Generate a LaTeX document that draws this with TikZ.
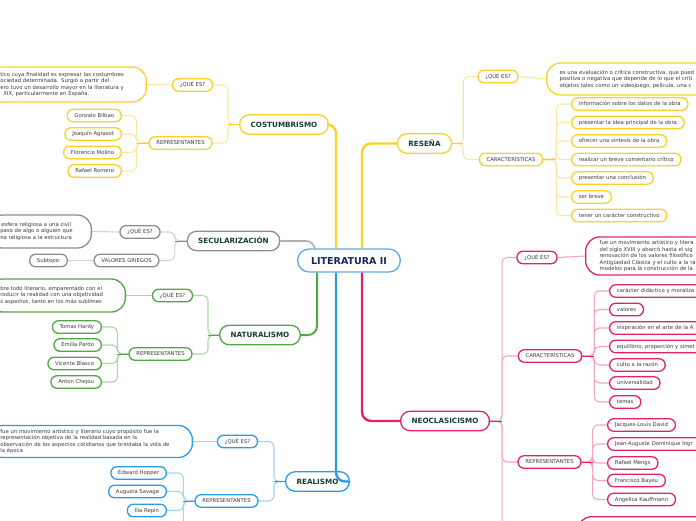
\documentclass[tikz,border=0pt]{standalone}
\usepackage{fontspec}
\setmainfont{DejaVu Sans}
\definecolor{amarillo}{HTML}{FAD12A}
\definecolor{amarilloC}{HTML}{FBE7A1}
\definecolor{verde}{HTML}{4FA844}
\definecolor{verdeC}{HTML}{ABD9A4}
\definecolor{azul}{HTML}{2A9BEA}
\definecolor{azulC}{HTML}{A2D2F5}
\definecolor{rosa}{HTML}{E2236A}
\definecolor{rosaC}{HTML}{F4A6C3}
\definecolor{gris}{HTML}{8E8E8E}
\definecolor{grisC}{HTML}{D3D3D3}
\definecolor{central}{HTML}{5EA9E2}
\definecolor{titulo}{HTML}{123F33}
\definecolor{tituloC}{HTML}{16285A}
\definecolor{texto}{HTML}{3A3A3A}
\usetikzlibrary{backgrounds}
\begin{document}
\begin{tikzpicture}[x=1pt,y=-1pt,line width=1.3pt,
  hoja/.style={draw,fill=white,rounded corners=6pt,inner xsep=7.3pt,inner ysep=0pt,minimum height=12.5pt,text height=4pt,text depth=1pt,text=texto,font=\fontsize{5.3}{6.4}\selectfont},
  larga/.style={hoja,text width=96pt,align=left},
  tema/.style={draw,fill=white,rounded corners=9.5pt,inner xsep=11pt,inner ysep=0pt,minimum height=19.5pt,text height=5.3pt,text depth=0pt,text=titulo,font=\fontsize{7.2}{8}\selectfont\bfseries},
  nota/.style={draw,fill=white,rounded corners=14pt,inner xsep=12pt,inner ysep=2pt,align=left,text=texto,font=\fontsize{5.3}{6.5}\selectfont},
  rama/.style={line width=1.1pt,rounded corners=5pt},
  tronco/.style={line width=2.4pt,rounded corners=9pt}]
\useasboundingbox (0,0) rectangle (696,520);

\node[tema,draw=central,rounded corners=11.5pt,minimum height=23pt,inner xsep=13.5pt,text height=7pt,text=tituloC,font=\fontsize{9.5}{10}\selectfont\bfseries] (lit) at (349,260.5) {LITERATURA II};

\node[tema,draw=amarillo] (cos) at (284,124.5) {COSTUMBRISMO};
\node[hoja,draw=amarillo] (cosq) at (192.5,85) {¿QUÉ ES?};
\node[nota,draw=amarillo,anchor=east,text width=134pt,minimum height=35pt] (cosd) at (147,84.5) {tico cuya finalidad es expresar las costumbres\\ociedad determinada. Surgió a partir del\\ero tuvo un desarrollo mayor en la literatura y\\\hspace*{3pt}XIX, particularmente en España.};
\node[hoja,draw=amarillo] (cosr) at (180.5,143) {REPRESENTANTES};
\node[hoja,draw=amarillo,anchor=east] (cos1) at (122,115.5) {Gonzalo Bilbao};
\node[hoja,draw=amarillo,anchor=east] (cos2) at (122,134) {Joaquín Agrasot};
\node[hoja,draw=amarillo,anchor=east] (cos3) at (122,152.5) {Florencio Molino};
\node[hoja,draw=amarillo,anchor=east] (cos4) at (122,171) {Rafael Romero};

\node[tema,draw=gris] (sec) at (233.5,241) {SECULARIZACIÓN};
\node[hoja,draw=gris] (secq) at (140,232) {¿QUÉ ES?};
\node[nota,draw=gris,anchor=east,text width=79pt,minimum height=33pt] (secd) at (92,231.5) {\hspace*{1pt}esfera religiosa a una civil\\paso de algo o alguien que\\na religiosa a la estructura};
\node[hoja,draw=gris] (secv) at (126.5,260.5) {VALORES GRIEGOS};
\node[hoja,draw=gris] (secs) at (48.5,260.5) {Subtopic};

\node[tema,draw=verde] (nat) at (260,335) {NATURALISMO};
\node[hoja,draw=verde] (natq) at (172.5,295.5) {¿QUÉ ES?};
\node[nota,draw=verde,anchor=east,text width=113pt,minimum height=33pt] (natd) at (126,295.5) {bre todo literario, emparentado con el\\roducir la realidad con una objetividad\\s aspectos, tanto en los más sublimes};
\node[hoja,draw=verde] (natr) at (160.5,354) {REPRESENTANTES};
\node[hoja,draw=verde,anchor=east] (nat1) at (102,327) {Tomas Hardy};
\node[hoja,draw=verde,anchor=east] (nat2) at (102,345) {Emilia Pardo};
\node[hoja,draw=verde,anchor=east] (nat3) at (102,363.5) {Vicente Blasco};
\node[hoja,draw=verde,anchor=east] (nat4) at (102,382) {Anton Chejou};

\node[tema,draw=azul] (rea) at (317.5,481.5) {REALISMO};
\node[hoja,draw=azul] (reaq) at (237.5,441.5) {¿QUÉ ES?};
\node[nota,draw=azul,anchor=east,text width=180pt,minimum height=32pt] (read) at (193,441.5) {fue un movimiento artístico y literario cuyo propósito fue la\\representación objetiva de la realidad basada en la\\observación de los aspectos cotidianos que brindaba la vida de\\la época};
\node[hoja,draw=azul] (rear) at (226.5,501) {REPRESENTANTES};
\node[hoja,draw=azul,anchor=east] (rea1) at (167,473) {Edward Hopper};
\node[hoja,draw=azul,anchor=east] (rea2) at (167,491.5) {Augusta Savage};
\node[hoja,draw=azul,anchor=east] (rea3) at (167,510.5) {Ilia Repin};
\coordinate (rea4) at (167,535);

\node[tema,draw=amarillo] (res) at (424.5,143.5) {RESEÑA};
\node[hoja,draw=amarillo] (resq) at (498,76.5) {¿QUÉ ES?};
\node[nota,draw=amarillo,anchor=west,inner xsep=13pt,text width=200pt,minimum height=32pt] (resd) at (546,79) {es una evaluación o crítica constructiva, que pued\\positiva o negativa que depende de lo que el críti\\objetos tales como un videojuego, película, una c};
\node[hoja,draw=amarillo] (resc) at (511,159.5) {CARACTERÍSTICAS};
\node[hoja,draw=amarillo,anchor=west] (res1) at (571,104) {información sobre los datos de la obra};
\node[hoja,draw=amarillo,anchor=west] (res2) at (571,122.5) {presentar la idea principal de la obra};
\node[hoja,draw=amarillo,anchor=west] (res3) at (571,141) {ofrecer una síntesis de la obra};
\node[hoja,draw=amarillo,anchor=west] (res4) at (571,159.5) {realizar un breve comentario crítico};
\node[hoja,draw=amarillo,anchor=west] (res5) at (571,178) {presentar una conclusión};
\node[hoja,draw=amarillo,anchor=west] (res6) at (571,197) {ser breve};
\node[hoja,draw=amarillo,anchor=west] (res7) at (571,215.5) {tener un carácter constructivo};

\node[tema,draw=rosa] (neo) at (445,421) {NEOCLASICISMO};
\node[hoja,draw=rosa] (neoq) at (537,257.5) {¿QUÉ ES?};
\node[nota,draw=rosa,anchor=west,inner xsep=14pt,text width=200pt,minimum height=38pt] (neod) at (585,256) {fue un movimiento artístico y litera\\del siglo XVIII y abarcó hasta el sig\\renovación de los valores filosófico\\Antigüedad Clásica y el culto a la ra\\modelos para la construcción de la};
\node[hoja,draw=rosa] (neoc) at (550,356) {CARACTERÍSTICAS};
\node[larga,draw=rosa,anchor=west] (neo1) at (609,291) {carácter didáctico y moraliza};
\node[hoja,draw=rosa,anchor=west] (neo2) at (609,309.5) {valores};
\node[larga,draw=rosa,anchor=west] (neo3) at (609,328) {inspiración en el arte de la A};
\node[larga,draw=rosa,anchor=west] (neo4) at (609,346.5) {equilibrio, proporción y simet};
\node[hoja,draw=rosa,anchor=west] (neo5) at (609,365) {culto a la razón};
\node[hoja,draw=rosa,anchor=west] (neo6) at (609,383) {universalidad};
\node[hoja,draw=rosa,anchor=west] (neo7) at (609,402) {temas};
\node[hoja,draw=rosa] (neor) at (549.5,462) {REPRESENTANTES};
\node[hoja,draw=rosa,anchor=west] (neor1) at (607,425) {Jacques-Louis David};
\node[larga,draw=rosa,anchor=west] (neor2) at (607,444) {Jean-Auguste Dominique Ingr};
\node[hoja,draw=rosa,anchor=west] (neor3) at (607,463) {Rafael Mengs};
\node[hoja,draw=rosa,anchor=west] (neor4) at (607,480.5) {Francisco Bayeu};
\node[hoja,draw=rosa,anchor=west] (neor5) at (607,499.5) {Angelica Kauffmann};
\node[nota,draw=rosa,anchor=north west,minimum width=150pt,minimum height=40pt] (neob) at (577,516) {};

\begin{scope}[on background layer]
\draw[rama,amarilloC] (cosd.east) -- (cosq.west);
\draw[rama,amarilloC] (cosq.east) -| ([xshift=-11pt]cos.west) -- (cos.west);
\draw[rama,amarilloC] (cosr.east) -| ([xshift=-11pt]cos.west) -- (cos.west);
\draw[rama,amarilloC] (cos1.east) -| ([xshift=-12pt]cosr.west) -- (cosr.west);
\draw[rama,amarilloC] (cos2.east) -| ([xshift=-12pt]cosr.west) -- (cosr.west);
\draw[rama,amarilloC] (cos3.east) -| ([xshift=-12pt]cosr.west) -- (cosr.west);
\draw[rama,amarilloC] (cos4.east) -| ([xshift=-12pt]cosr.west) -- (cosr.west);
\draw[amarillo] ([xshift=-11pt]cos.west) -- (cos.west);
\draw[amarillo] ([xshift=-12pt]cosr.west) -- (cosr.west);

\draw[rama,grisC] (secd.east) -- (secq.west);
\draw[rama,grisC] (secs.east) -- (secv.west);
\draw[rama,grisC] (secq.east) -| ([xshift=-12pt]sec.west) -- (sec.west);
\draw[rama,grisC] (secv.east) -| ([xshift=-12pt]sec.west) -- (sec.west);
\draw[gris] ([xshift=-12pt]sec.west) -- (sec.west);

\draw[rama,verdeC] (natd.east) -- (natq.west);
\draw[rama,verdeC] (natq.east) -| ([xshift=-11pt]nat.west) -- (nat.west);
\draw[rama,verdeC] (natr.east) -| ([xshift=-11pt]nat.west) -- (nat.west);
\draw[rama,verdeC] (nat1.east) -| ([xshift=-11pt]natr.west) -- (natr.west);
\draw[rama,verdeC] (nat2.east) -| ([xshift=-11pt]natr.west) -- (natr.west);
\draw[rama,verdeC] (nat3.east) -| ([xshift=-11pt]natr.west) -- (natr.west);
\draw[rama,verdeC] (nat4.east) -| ([xshift=-11pt]natr.west) -- (natr.west);
\draw[verde] ([xshift=-11pt]nat.west) -- (nat.west);
\draw[verde] ([xshift=-11pt]natr.west) -- (natr.west);

\draw[rama,azulC] (read.east) -- (reaq.west);
\draw[rama,azulC] (reaq.east) -| ([xshift=-11pt]rea.west) -- (rea.west);
\draw[rama,azulC] (rear.east) -| ([xshift=-11pt]rea.west) -- (rea.west);
\draw[rama,azulC] (rea1.east) -| ([xshift=-11pt]rear.west) -- (rear.west);
\draw[rama,azulC] (rea2.east) -| ([xshift=-11pt]rear.west) -- (rear.west);
\draw[rama,azulC] (rea3.east) -| ([xshift=-11pt]rear.west) -- (rear.west);
\draw[rama,azulC] (rea4) -| ([xshift=-11pt]rear.west) -- (rear.west);
\draw[azul] ([xshift=-11pt]rea.west) -- (rea.west);
\draw[azul] ([xshift=-11pt]rear.west) -- (rear.west);

\draw[rama,amarilloC] (resq.east) -- (resd.west);
\draw[rama,amarilloC] (resq.west) -| ([xshift=11pt]res.east) -- (res.east);
\draw[rama,amarilloC] (resc.west) -| ([xshift=11pt]res.east) -- (res.east);
\draw[rama,amarilloC] (res1.west) -| ([xshift=13pt]resc.east) -- (resc.east);
\draw[rama,amarilloC] (res2.west) -| ([xshift=13pt]resc.east) -- (resc.east);
\draw[rama,amarilloC] (res3.west) -| ([xshift=13pt]resc.east) -- (resc.east);
\draw[rama,amarilloC] (res4.west) -| ([xshift=13pt]resc.east) -- (resc.east);
\draw[rama,amarilloC] (res5.west) -| ([xshift=13pt]resc.east) -- (resc.east);
\draw[rama,amarilloC] (res6.west) -| ([xshift=13pt]resc.east) -- (resc.east);
\draw[rama,amarilloC] (res7.west) -| ([xshift=13pt]resc.east) -- (resc.east);
\draw[amarillo] ([xshift=11pt]res.east) -- (res.east);
\draw[amarillo] ([xshift=13pt]resc.east) -- (resc.east);

\draw[rama,rosaC] (neoq.east) -- (neod.west);
\draw[rama,rosaC] (neoq.west) -| ([xshift=12pt]neo.east) -- (neo.east);
\draw[rama,rosaC] (neoc.west) -| ([xshift=12pt]neo.east) -- (neo.east);
\draw[rama,rosaC] (neor.west) -| ([xshift=12pt]neo.east) -- (neo.east);
\draw[rama,rosaC] (neob.west) -| ([xshift=12pt]neo.east) -- (neo.east);
\draw[rama,rosaC] (neo1.west) -| ([xshift=12pt]neoc.east) -- (neoc.east);
\draw[rama,rosaC] (neo2.west) -| ([xshift=12pt]neoc.east) -- (neoc.east);
\draw[rama,rosaC] (neo3.west) -| ([xshift=12pt]neoc.east) -- (neoc.east);
\draw[rama,rosaC] (neo4.west) -| ([xshift=12pt]neoc.east) -- (neoc.east);
\draw[rama,rosaC] (neo5.west) -| ([xshift=12pt]neoc.east) -- (neoc.east);
\draw[rama,rosaC] (neo6.west) -| ([xshift=12pt]neoc.east) -- (neoc.east);
\draw[rama,rosaC] (neo7.west) -| ([xshift=12pt]neoc.east) -- (neoc.east);
\draw[rama,rosaC] (neor1.west) -| ([xshift=11pt]neor.east) -- (neor.east);
\draw[rama,rosaC] (neor2.west) -| ([xshift=11pt]neor.east) -- (neor.east);
\draw[rama,rosaC] (neor3.west) -| ([xshift=11pt]neor.east) -- (neor.east);
\draw[rama,rosaC] (neor4.west) -| ([xshift=11pt]neor.east) -- (neor.east);
\draw[rama,rosaC] (neor5.west) -| ([xshift=11pt]neor.east) -- (neor.east);
\draw[rosa] ([xshift=12pt]neo.east) -- (neo.east);
\draw[rosa] ([xshift=12pt]neoc.east) -- (neoc.east);
\draw[rosa] ([xshift=11pt]neor.east) -- (neor.east);
\end{scope}

\draw[tronco,amarillo] (cos.east) -| ([xshift=-13pt]lit.north);
\draw[tronco,amarillo] (res.west) -| ([xshift=13pt]lit.north);
\draw[tronco,line width=1.6pt,gris!70] (sec.east) -| ([xshift=-34pt]lit.north);
\draw[tronco,line width=2pt,verde] (nat.east) -| ([xshift=-32pt]lit.south);
\draw[tronco,azul] ([xshift=-13pt]lit.south) |- (rea.east);
\draw[tronco,rosa] (neo.west) -| ([xshift=13pt]lit.south);
\end{tikzpicture}
\end{document}
